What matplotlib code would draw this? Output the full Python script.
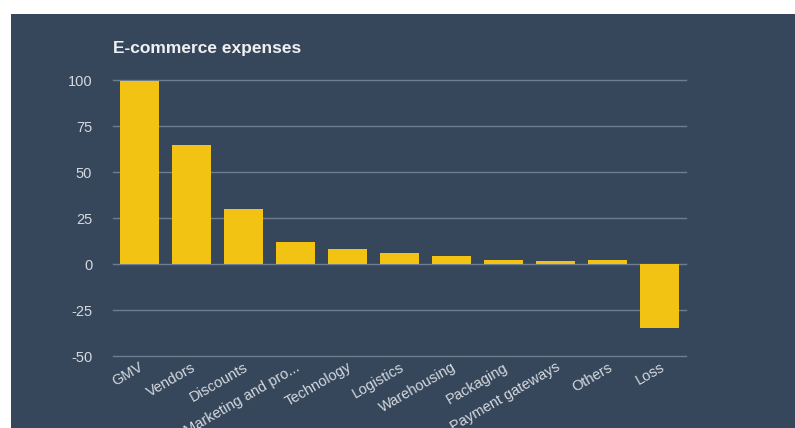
import matplotlib.pyplot as plt
from matplotlib.patches import Rectangle

plt.rcParams["font.family"] = ["Liberation Sans", "DejaVu Sans"]

categories = ["GMV", "Vendors", "Discounts", "Marketing and pro...", "Technology",
              "Logistics", "Warehousing", "Packaging", "Payment gateways", "Others", "Loss"]
values = [100, 65, 30, 12, 8, 6, 4.5, 2.5, 1.5, 2.5, -35]
y_ticks = [-50, -25, 0, 25, 50, 75, 100]

bg = "#36475b"
bar_color = "#f2c312"
grid_color = "#6e7d8f"
text_color = "#d5d9df"

fig = plt.figure(figsize=(7.95, 4.28), dpi=100)
fig.patch.set_facecolor(bg)

# white strip on top and on the left, like the screenshot
fig.patches.append(Rectangle((0, 1 - 14 / 428), 1, 14 / 428, transform=fig.transFigure,
                             facecolor="white", edgecolor="none", zorder=-5))
fig.patches.append(Rectangle((0, 0), 11 / 795, 1, transform=fig.transFigure,
                             facecolor="white", edgecolor="none", zorder=-5))

ax = fig.add_axes([113 / 795, 1 - 356 / 428, (686 - 113) / 795, (356 - 80.5) / 428])
ax.set_facecolor(bg)

x = range(len(categories))
ax.bar(x, values, width=0.75, color=bar_color, zorder=3)

ax.set_xlim(-0.5, len(categories) - 0.5)
ax.set_ylim(-50, 100)
ax.set_yticks(y_ticks)
ax.set_yticklabels([str(v) for v in y_ticks], color=text_color, fontsize=10.5)
ax.yaxis.grid(True, color=grid_color, linewidth=1)
for gl in ax.get_ygridlines():
    gl.set_clip_on(False)
ax.set_axisbelow(True)

ax.set_xticks(list(x))
ax.set_xticklabels(categories, rotation=30, ha="right", rotation_mode="anchor",
                   color=text_color, fontsize=10.5)

ax.tick_params(axis="both", length=0)
ax.tick_params(axis="y", pad=15)
ax.tick_params(axis="x", pad=3)
for s in ax.spines.values():
    s.set_visible(False)

fig.text(113 / 795, 1 - 48 / 428, "E-commerce expenses", color="#eef0f3",
         fontsize=12.5, fontweight="bold", va="center", ha="left")

fig.savefig("out.png", dpi=100, facecolor=fig.get_facecolor())
